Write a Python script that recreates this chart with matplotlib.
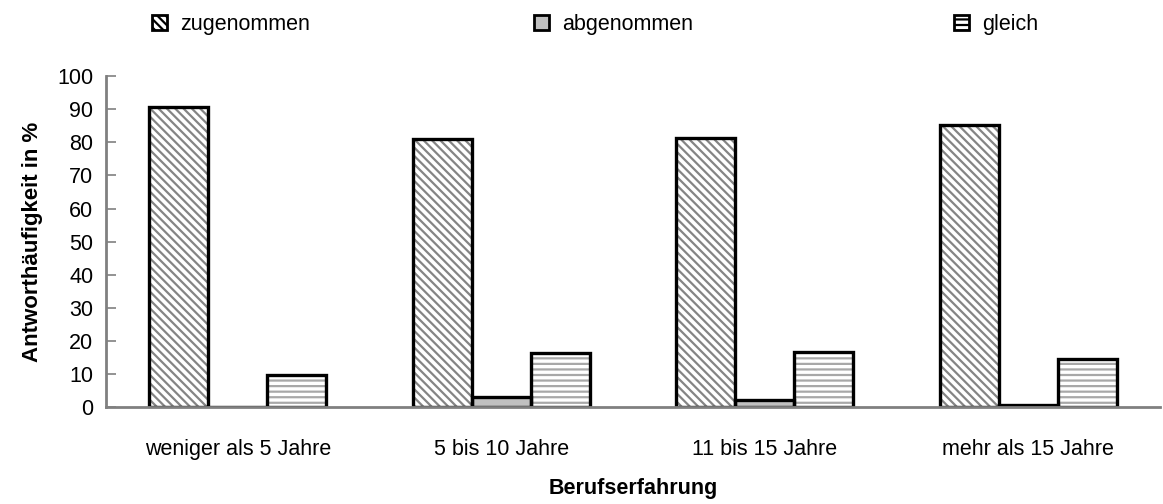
import matplotlib.pyplot as plt
import numpy as np
from matplotlib.patches import Patch

plt.rcParams['font.family'] = ['Liberation Sans', 'DejaVu Sans']
plt.rcParams['hatch.linewidth'] = 1.6

categories = ['weniger als 5 Jahre', '5 bis 10 Jahre', '11 bis 15 Jahre', 'mehr als 15 Jahre']
zugenommen = [90.7, 81.1, 81.4, 85.2]
abgenommen = [0.0, 3.1, 2.3, 0.8]
gleich = [9.8, 16.5, 16.8, 14.5]
series = [('zugenommen', zugenommen), ('abgenommen', abgenommen), ('gleich', gleich)]
styles = {
    'zugenommen': dict(facecolor='white', hatch='\\\\\\\\', hatchcol='#858585'),
    'abgenommen': dict(facecolor='#c0c0c0', hatch='', hatchcol='#c0c0c0'),
    'gleich': dict(facecolor='white', hatch='---', hatchcol='#a8a8a8'),
}
legend_x = [0.131, 0.459, 0.820]
fs = 15.5

fig = plt.figure(figsize=(11.63, 5.04), dpi=100)
ax = fig.add_axes([0.0911, 0.192, 0.9063, 0.657])

x = np.arange(len(categories))
w = 0.224
for i, (name, vals) in enumerate(series):
    st = styles[name]
    pos = x + (i - 1) * w
    # hatch layer (gray lines), then black outline on top
    ax.bar(pos, vals, w, facecolor=st['facecolor'], edgecolor=st['hatchcol'],
           hatch=st['hatch'], linewidth=0, zorder=2)
    ax.bar(pos, vals, w, facecolor='none', edgecolor='black', linewidth=2.4, zorder=3)
    h = Patch(facecolor=st['facecolor'], edgecolor='black', linewidth=2,
              hatch=st['hatch'], label=name)
    fig.legend(handles=[h], loc='center left', bbox_to_anchor=(legend_x[i], 0.952),
               frameon=False, fontsize=fs, handlelength=0.7, handleheight=0.7,
               handletextpad=0.6, borderpad=0, borderaxespad=0)

ax.set_xlim(-0.5, len(categories) - 0.5)
ax.set_ylim(0, 100)
ax.set_yticks(np.arange(0, 101, 10))
ax.set_xticks(x)
ax.set_xticklabels(categories, fontsize=fs)
ax.tick_params(axis='x', length=0, pad=23)
ax.tick_params(axis='y', direction='in', length=7, width=1.2, color='#808080', labelsize=fs, pad=9)
for s in ['top', 'right']:
    ax.spines[s].set_visible(False)
for s in ['left', 'bottom']:
    ax.spines[s].set_color('#808080')
    ax.spines[s].set_linewidth(2)
ax.spines['bottom'].set_zorder(4)

ax.set_ylabel('Antworthäufigkeit in %', fontsize=16, fontweight='bold', labelpad=10)
ax.set_xlabel('Berufserfahrung', fontsize=fs, fontweight='bold', labelpad=13)

fig.savefig('out.png', dpi=100)
